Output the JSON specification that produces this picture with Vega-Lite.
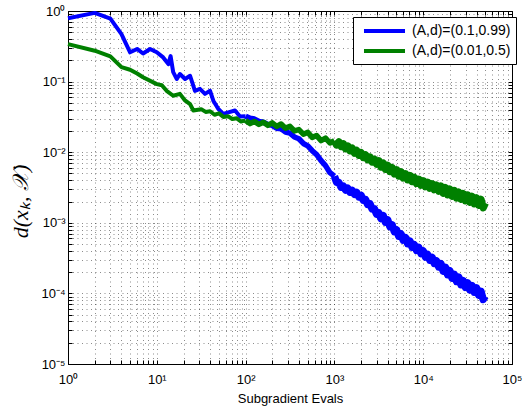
{
"$schema":"https://vega.github.io/schema/vega-lite/v6.json",
"width":444,"height":353,
"autosize":{"type":"none"},
"padding":{"left":68,"top":11,"right":11,"bottom":48},
"background":"white",
"config":{"view":{"stroke":"black","strokeWidth":1},"font":"Liberation Sans"},
"datasets":{
"blueHead":[
{"evals":1,"dist":0.79},{"evals":2,"dist":0.94},{"evals":3,"dist":0.78},{"evals":4,"dist":0.47},{"evals":5,"dist":0.26},{"evals":6,"dist":0.29},{"evals":7,"dist":0.25},{"evals":8.4,"dist":0.29},{"evals":10,"dist":0.26},{"evals":11.8,"dist":0.22},{"evals":13.5,"dist":0.177},{"evals":14.3,"dist":0.23},{"evals":15.3,"dist":0.136},{"evals":16.8,"dist":0.109},{"evals":18.2,"dist":0.128},{"evals":20.8,"dist":0.109},{"evals":23.7,"dist":0.121},{"evals":26.9,"dist":0.074},{"evals":30.6,"dist":0.079},{"evals":34.9,"dist":0.067},{"evals":39.8,"dist":0.074},{"evals":43.3,"dist":0.0537},{"evals":49.3,"dist":0.041},{"evals":56,"dist":0.0348},{"evals":63.9,"dist":0.0367},{"evals":76,"dist":0.039},{"evals":86.5,"dist":0.032},{"evals":100,"dist":0.0324}
],
"blueMid":[
{"evals":100,"dist":0.0324},{"evals":112.2,"dist":0.0302},{"evals":125.9,"dist":0.0295},{"evals":141.3,"dist":0.0272},{"evals":158.5,"dist":0.0266},{"evals":177.8,"dist":0.0248},{"evals":199.5,"dist":0.024},{"evals":223.9,"dist":0.0219},{"evals":251.2,"dist":0.0214},{"evals":281.8,"dist":0.0193},{"evals":316.2,"dist":0.0186},{"evals":354.8,"dist":0.0164},{"evals":398.1,"dist":0.0155},{"evals":446.7,"dist":0.0133},{"evals":501.2,"dist":0.0123},{"evals":562.3,"dist":0.0105},{"evals":631,"dist":0.00923},{"evals":707.9,"dist":0.00759},{"evals":794.3,"dist":0.00646},{"evals":891.3,"dist":0.00513},{"evals":1000,"dist":0.00457}
],
"blueTail":[
{"evals":1000,"dist":0.00457},{"evals":1059,"dist":0.00376},{"evals":1122,"dist":0.00372},{"evals":1189,"dist":0.0032},{"evals":1259,"dist":0.00331},{"evals":1334,"dist":0.00292},{"evals":1413,"dist":0.00309},{"evals":1496,"dist":0.00272},{"evals":1585,"dist":0.00288},{"evals":1679,"dist":0.00254},{"evals":1778,"dist":0.00269},{"evals":1884,"dist":0.00234},{"evals":1995,"dist":0.00245},{"evals":2114,"dist":0.00209},{"evals":2239,"dist":0.00214},{"evals":2371,"dist":0.00182},{"evals":2512,"dist":0.00186},{"evals":2661,"dist":0.00157},{"evals":2818,"dist":0.00158},{"evals":2985,"dist":0.00133},
{"evals":3162,"dist":0.00138},{"evals":3350,"dist":0.00115},{"evals":3548,"dist":0.00126},{"evals":3758,"dist":0.00102},{"evals":3981,"dist":0.0011},{"evals":4217,"dist":0.000881},{"evals":4467,"dist":0.000933},{"evals":4732,"dist":0.00075},{"evals":5012,"dist":0.000794},{"evals":5309,"dist":0.000646},{"evals":5623,"dist":0.000692},{"evals":5957,"dist":0.000569},{"evals":6310,"dist":0.000617},{"evals":6683,"dist":0.000507},{"evals":7079,"dist":0.00055},{"evals":7499,"dist":0.000452},{"evals":7943,"dist":0.00049},{"evals":8414,"dist":0.000407},{"evals":8913,"dist":0.000447},{"evals":9441,"dist":0.000367},
{"evals":10000,"dist":0.000398},{"evals":10593,"dist":0.000327},{"evals":11220,"dist":0.000355},{"evals":11885,"dist":0.000295},{"evals":12589,"dist":0.000324},{"evals":13335,"dist":0.000266},{"evals":14125,"dist":0.000288},{"evals":14962,"dist":0.000237},{"evals":15849,"dist":0.000263},{"evals":16788,"dist":0.000207},{"evals":17783,"dist":0.000234},{"evals":18836,"dist":0.000184},{"evals":19953,"dist":0.000209},{"evals":21135,"dist":0.000164},{"evals":22387,"dist":0.000186},{"evals":23714,"dist":0.000148},{"evals":25119,"dist":0.00017},{"evals":26607,"dist":0.000133},{"evals":28184,"dist":0.000151},{"evals":29854,"dist":0.000122},
{"evals":31623,"dist":0.000141},{"evals":33497,"dist":0.000112},{"evals":35481,"dist":0.000129},{"evals":37584,"dist":0.000104},{"evals":39811,"dist":0.00012},{"evals":42170,"dist":0.0000944},{"evals":44668,"dist":0.000107},{"evals":47315,"dist":0.0000822},{"evals":50000,"dist":0.0000912}
],
"greenHead":[
{"evals":1,"dist":0.34},{"evals":2,"dist":0.274},{"evals":3,"dist":0.228},{"evals":4,"dist":0.16},{"evals":5,"dist":0.147},{"evals":6,"dist":0.13},{"evals":7,"dist":0.115},{"evals":10,"dist":0.092},{"evals":11.4,"dist":0.089},{"evals":12.9,"dist":0.074},{"evals":15.3,"dist":0.063},{"evals":18.2,"dist":0.067},{"evals":20.8,"dist":0.054},{"evals":23.7,"dist":0.048},{"evals":25.8,"dist":0.039},
{"evals":31.6,"dist":0.0407},{"evals":35.5,"dist":0.0372},{"evals":39.8,"dist":0.038},{"evals":44.7,"dist":0.0339},{"evals":50.1,"dist":0.0355},{"evals":56.2,"dist":0.0316},{"evals":63.1,"dist":0.0324},{"evals":70.8,"dist":0.0295},{"evals":79.4,"dist":0.0302},{"evals":89.1,"dist":0.0272},{"evals":100,"dist":0.0282}
],
"greenMid":[
{"evals":100,"dist":0.0282},{"evals":112.2,"dist":0.0254},{"evals":125.9,"dist":0.0272},{"evals":141.3,"dist":0.0248},{"evals":158.5,"dist":0.0266},{"evals":177.8,"dist":0.024},{"evals":199.5,"dist":0.026},{"evals":223.9,"dist":0.0232},{"evals":251.2,"dist":0.0251},{"evals":281.8,"dist":0.0219},{"evals":316.2,"dist":0.0232},{"evals":354.8,"dist":0.02},{"evals":398.1,"dist":0.0209},{"evals":446.7,"dist":0.018},{"evals":501.2,"dist":0.0191},{"evals":562.3,"dist":0.0162},{"evals":631,"dist":0.0172},{"evals":707.9,"dist":0.0146},{"evals":794.3,"dist":0.0158},{"evals":891.3,"dist":0.0135},{"evals":1000,"dist":0.01449}
],
"greenTail":[
{"evals":1000,"dist":0.01449},{"evals":1059,"dist":0.01268},{"evals":1122,"dist":0.01396},{"evals":1189,"dist":0.01211},{"evals":1259,"dist":0.01312},{"evals":1334,"dist":0.01127},{"evals":1413,"dist":0.01219},{"evals":1496,"dist":0.0105},{"evals":1585,"dist":0.01135},{"evals":1679,"dist":0.00975},{"evals":1778,"dist":0.01057},{"evals":1884,"dist":0.00908},{"evals":1995,"dist":0.00982},{"evals":2114,"dist":0.00845},{"evals":2239,"dist":0.00914},{"evals":2371,"dist":0.00785},{"evals":2512,"dist":0.00851},{"evals":2661,"dist":0.00731},{"evals":2818,"dist":0.00791},{"evals":2985,"dist":0.00681},
{"evals":3162,"dist":0.00753},{"evals":3350,"dist":0.00618},{"evals":3548,"dist":0.007},{"evals":3758,"dist":0.00574},{"evals":3981,"dist":0.0065},{"evals":4217,"dist":0.00533},{"evals":4467,"dist":0.00604},{"evals":4732,"dist":0.00495},{"evals":5012,"dist":0.00562},{"evals":5309,"dist":0.00461},{"evals":5623,"dist":0.00524},{"evals":5957,"dist":0.00434},{"evals":6310,"dist":0.00494},{"evals":6683,"dist":0.00408},{"evals":7079,"dist":0.00466},{"evals":7499,"dist":0.00385},{"evals":7943,"dist":0.00439},{"evals":8414,"dist":0.00362},{"evals":8913,"dist":0.00413},{"evals":9441,"dist":0.00342},
{"evals":10000,"dist":0.00393},{"evals":10593,"dist":0.00326},{"evals":11220,"dist":0.00374},{"evals":11885,"dist":0.0031},{"evals":12589,"dist":0.00356},{"evals":13335,"dist":0.00296},{"evals":14125,"dist":0.0034},{"evals":14962,"dist":0.00282},{"evals":15849,"dist":0.00331},{"evals":16788,"dist":0.00263},{"evals":17783,"dist":0.00315},{"evals":18836,"dist":0.0025},{"evals":19953,"dist":0.003},{"evals":21135,"dist":0.00238},{"evals":22387,"dist":0.00286},{"evals":23714,"dist":0.00226},{"evals":25119,"dist":0.00272},{"evals":26607,"dist":0.00216},{"evals":28184,"dist":0.00259},{"evals":29854,"dist":0.00206},
{"evals":31623,"dist":0.00247},{"evals":33497,"dist":0.00196},{"evals":35481,"dist":0.00236},{"evals":37584,"dist":0.00187},{"evals":39811,"dist":0.00225},{"evals":42170,"dist":0.00178},{"evals":44668,"dist":0.00214},{"evals":47315,"dist":0.00164},{"evals":50000,"dist":0.00191}
]
},
"resolve":{"axis":{"x":"independent","y":"independent"}},
"layer":[
{"data":{"name":"blueHead"},"mark":{"type":"line","strokeWidth":4,"strokeJoin":"round"},
 "encoding":{
 "x":{"field":"evals","type":"quantitative","scale":{"type":"log","domain":[1,100000]},
  "axis":{"title":"Subgradient Evals","titleFontSize":13,"titleFontWeight":"normal","titleColor":"black","titleY":34,"titleBaseline":"middle",
  "labelExpr":"abs(log(datum.value)/LN10 - round(log(datum.value)/LN10)) < 0.000001 ? '10' + ['⁰','¹','²','³','⁴','⁵'][round(log(datum.value)/LN10)] : ''",
  "labelFontSize":13,"labelColor":"black","labelOverlap":false,"labelFlush":false,"labelPadding":13,
  "tickSize":-4,"tickColor":"black","domainColor":"black",
  "grid":true,"gridDash":[1,3.5],"gridColor":"#000000","gridOpacity":0.45}},
 "y":{"field":"dist","type":"quantitative","scale":{"type":"log","domain":[0.00001,1]},
  "axis":{"title":"d(xₖ, 𝒳)","titleFont":"Liberation Serif","titleFontStyle":"italic","titleFontSize":22,"titleFontWeight":"normal","titleColor":"black",
  "titleAngle":270,"titleAlign":"center","titleBaseline":"middle","titleX":-48,"titleY":190,
  "labelExpr":"abs(log(datum.value)/LN10 - round(log(datum.value)/LN10)) < 0.000001 ? '10' + ['⁻⁵','⁻⁴','⁻³','⁻²','⁻¹','⁰'][round(log(datum.value)/LN10)+5] : ''",
  "labelFontSize":13,"labelColor":"black","labelOverlap":false,"labelPadding":7,
  "tickSize":-4,"tickColor":"black","domainColor":"black",
  "grid":true,"gridDash":[1,3.5],"gridColor":"#000000","gridOpacity":0.45}},
 "color":{"datum":"(A,d)=(0.1,0.99)"}}},
{"data":{"name":"blueMid"},"mark":{"type":"line","strokeWidth":5.5,"strokeJoin":"round"},
 "encoding":{
 "x":{"field":"evals","type":"quantitative","axis":null},
 "y":{"field":"dist","type":"quantitative","axis":null},
 "color":{"datum":"(A,d)=(0.1,0.99)"}}},
{"data":{"name":"blueTail"},"mark":{"type":"line","strokeWidth":7.5,"strokeJoin":"round"},
 "encoding":{
 "x":{"field":"evals","type":"quantitative","axis":null},
 "y":{"field":"dist","type":"quantitative","axis":null},
 "color":{"datum":"(A,d)=(0.1,0.99)"}}},
{"data":{"name":"greenHead"},"mark":{"type":"line","strokeWidth":4,"strokeJoin":"round"},
 "encoding":{
 "x":{"field":"evals","type":"quantitative","axis":{"orient":"top","labels":false,"title":null,"grid":false,"domain":false,"tickSize":-4,"tickColor":"black"}},
 "y":{"field":"dist","type":"quantitative","axis":{"orient":"right","labels":false,"title":null,"grid":false,"domain":false,"tickSize":-4,"tickColor":"black"}},
 "color":{"datum":"(A,d)=(0.01,0.5)",
  "scale":{"domain":["(A,d)=(0.1,0.99)","(A,d)=(0.01,0.5)"],"range":["#0000ff","#008000"]},
  "legend":{"title":null,"orient":"none","legendX":285,"legendY":6,"direction":"vertical",
   "symbolType":"M-2.93,0H2.93","symbolSize":196,"symbolStrokeWidth":4,"symbolOffset":17.5,"labelFontSize":14,"labelColor":"black","labelOffset":18.5,
   "padding":5,"rowPadding":3,"strokeColor":"black","fillColor":"white","cornerRadius":0}}}},
{"data":{"name":"greenMid"},"mark":{"type":"line","strokeWidth":5.5,"strokeJoin":"round"},
 "encoding":{
 "x":{"field":"evals","type":"quantitative","axis":null},
 "y":{"field":"dist","type":"quantitative","axis":null},
 "color":{"datum":"(A,d)=(0.01,0.5)"}}},
{"data":{"name":"greenTail"},"mark":{"type":"line","strokeWidth":7.5,"strokeJoin":"round"},
 "encoding":{
 "x":{"field":"evals","type":"quantitative","axis":null},
 "y":{"field":"dist","type":"quantitative","axis":null},
 "color":{"datum":"(A,d)=(0.01,0.5)"}}}
]
}
